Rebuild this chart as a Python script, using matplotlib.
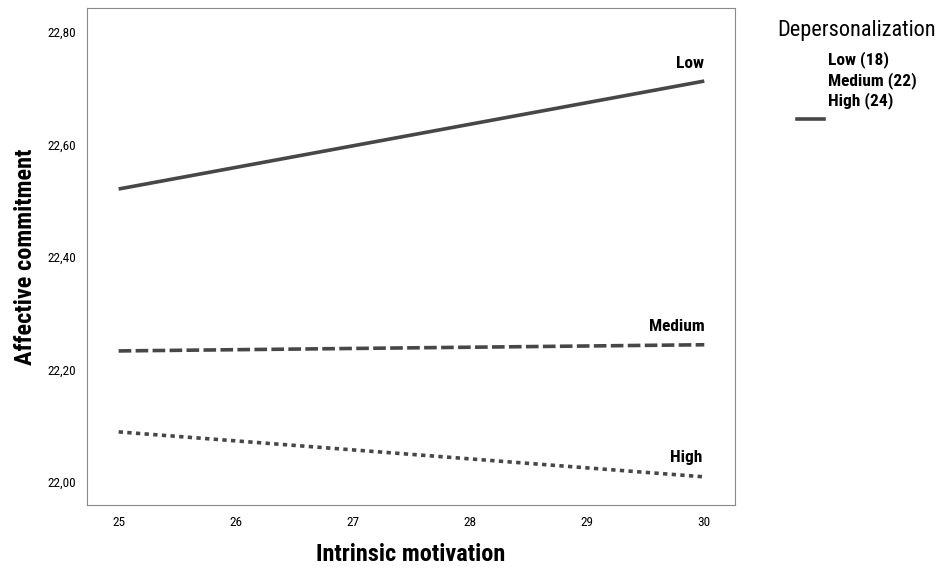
import matplotlib.pyplot as plt
from matplotlib.lines import Line2D

x = [25, 30]
low = [22.521, 22.713]
medium = [22.233, 22.244]
high = [22.089, 22.009]
legend_labels = ["Low (18)", "Medium (22)", "High (24)"]

fam = ["Liberation Sans Narrow", "DejaVu Sans Condensed", "Roboto Condensed", "Liberation Sans"]
plt.rcParams["font.family"] = fam

fig = plt.figure(figsize=(9.52, 5.69), dpi=100)
ax = fig.add_axes([0.0914, 0.1125, 0.681, 0.8735])

col = "#474747"
ax.plot(x, low, color=col, lw=2.6, solid_capstyle="butt")
ax.plot(x, medium, color=col, lw=2.6, linestyle=(0, (3.5, 1.2)))
ax.plot(x, high, color=col, lw=2.6, linestyle=(0, (1.2, 1.2)))

ax.text(30, low[1] + 0.032, "Low", ha="right", va="center", fontsize=12.5, fontweight="bold")
ax.text(30, medium[1] + 0.032, "Medium", ha="right", va="center", fontsize=12.5, fontweight="bold")
ax.text(29.98, high[1] + 0.035, "High", ha="right", va="center", fontsize=12.5, fontweight="bold")

ax.set_xlim(24.73, 30.265)
ax.set_ylim(21.959, 22.843)
ax.set_xticks([25, 26, 27, 28, 29, 30])
ax.set_yticks([22.0, 22.2, 22.4, 22.6, 22.8])
ax.set_yticklabels(["22,00", "22,20", "22,40", "22,60", "22,80"])
ax.tick_params(length=0, labelsize=9.5, pad=8)
for s in ax.spines.values():
    s.set_color("#8a8a8a")

fig.text(0.431, 0.025, "Intrinsic motivation", fontsize=17.5, fontweight="bold", ha="center", va="center")
fig.text(0.027, 0.548, "Affective commitment", fontsize=17.5, fontweight="bold", ha="center", va="center",
         rotation=90)

# SPSS-style legend
fig.text(0.816, 0.947, "Depersonalization", fontsize=16, va="center")
for i, lab in enumerate(legend_labels):
    fig.text(0.870, 0.8946 - i * 0.0353, lab, fontsize=12.5, fontweight="bold", va="center")
fig.add_artist(Line2D([0.837, 0.866], [0.791, 0.791], color=col, lw=2.6))

fig.savefig("out.png", dpi=100)
